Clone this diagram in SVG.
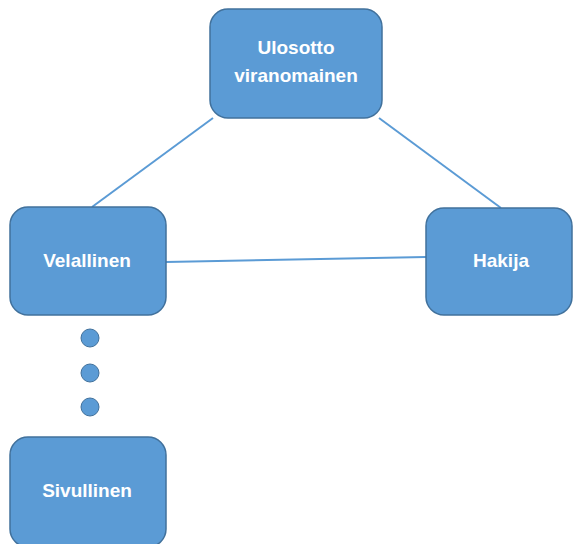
<svg xmlns="http://www.w3.org/2000/svg" width="574" height="544" viewBox="0 0 574 544">
<style>
.box{fill:#5b9bd5;stroke:#41719c;stroke-width:1.5}
.lbl{fill:#ffffff;font-family:"Liberation Sans",Arial,sans-serif;font-size:19px;font-weight:bold;text-anchor:middle}
.conn{stroke:#5b9bd5;stroke-width:2;fill:none}
.dot{fill:#5b9bd5;stroke:#41719c;stroke-width:1}
</style>
<rect width="574" height="544" fill="#ffffff"/>
<g id="connectors">
<line class="conn" x1="213" y1="118" x2="92" y2="207"/>
<line class="conn" x1="379" y1="118" x2="501" y2="208"/>
<line class="conn" x1="166" y1="262" x2="426" y2="257"/>
</g>
<g id="ulosotto">
<rect class="box" x="210" y="9" width="172" height="109" rx="18"/>
<text class="lbl" x="296" y="54">Ulosotto</text>
<text class="lbl" x="296" y="82">viranomainen</text>
</g>
<g id="velallinen">
<rect class="box" x="10" y="207" width="156" height="108" rx="18"/>
<text class="lbl" x="87" y="267">Velallinen</text>
</g>
<g id="hakija">
<rect class="box" x="426" y="208" width="146" height="107" rx="18"/>
<text class="lbl" x="501" y="267">Hakija</text>
</g>
<g id="dots">
<circle class="dot" cx="90" cy="338" r="9"/>
<circle class="dot" cx="90" cy="373" r="9"/>
<circle class="dot" cx="90" cy="407" r="9"/>
</g>
<g id="sivullinen">
<rect class="box" x="10" y="437" width="156" height="110" rx="18"/>
<text class="lbl" x="87" y="497">Sivullinen</text>
</g>
</svg>
